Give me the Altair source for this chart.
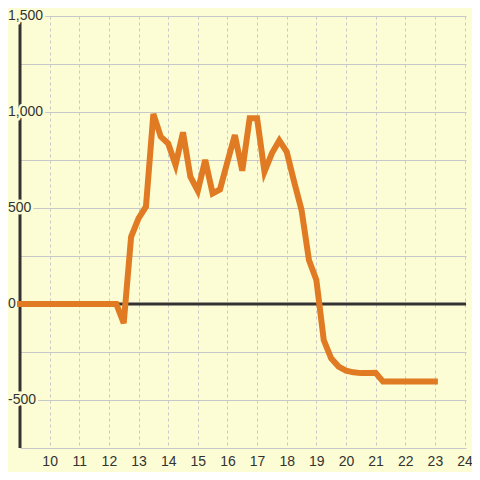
import altair as alt
import pandas as pd

hours = [9.0, 9.25, 9.5, 9.75, 10.0, 10.25, 10.5, 10.75, 11.0, 11.25, 11.5, 11.75,
         12.0, 12.25, 12.5, 12.75, 13.0, 13.25, 13.5, 13.75, 14.0, 14.25, 14.5, 14.75,
         15.0, 15.25, 15.5, 15.75, 16.0, 16.25, 16.5, 16.75, 17.0, 17.25, 17.5, 17.75,
         18.0, 18.25, 18.5, 18.75, 19.0, 19.25, 19.5, 19.75, 20.0, 20.25, 20.5, 20.75,
         21.0, 21.25, 21.5, 21.75, 22.0, 22.25, 22.5, 22.75, 23.0]
values = [0, 0, 0, 0, 0, 0, 0, 0, 0, 0, 0, 0,
          0, 0, -100, 350, 446, 507, 990, 872, 836, 724, 894, 663,
          590, 750, 576, 597, 741, 880, 694, 967, 967, 689, 785, 852,
          793, 637, 490, 229, 125, -188, -283, -326, -347, -356, -360, -360,
          -358, -404, -404, -404, -404, -404, -404, -404, -404]

x_ticks = [10, 11, 12, 13, 14, 15, 16, 17, 18, 19, 20, 21, 22, 23, 24]
y_grid = [-750, -500, -250, 0, 250, 500, 750, 1000, 1250, 1500]
y_label_values = [1500, 1000, 500, 0, -500]
y_label_texts = ["1,500", "1,000", "500", "0", "-500"]

BG = "#fdfdd5"
ORANGE = "#e07b24"
DARK = "#333333"
GRID = "#c8c8c8"
FONT = "Liberation Sans"

x_scale = alt.Scale(domain=[9, 24.05], nice=False, zero=False)
y_scale = alt.Scale(domain=[-750, 1500], nice=False, zero=False)

x_axis = alt.Axis(values=x_ticks, format="d", grid=True, gridDash=[3, 3], gridColor=GRID,
                  gridWidth=1, domain=False, ticks=False, labelPadding=6, labelFontSize=14,
                  labelColor=DARK, labelFont=FONT, title=None)
y_axis = alt.Axis(values=y_grid, grid=True, gridColor=GRID, gridWidth=1, labels=False,
                  domain=False, ticks=False, title=None)

X = alt.X("hour:Q", scale=x_scale, axis=x_axis)
Y = alt.Y("value:Q", scale=y_scale, axis=y_axis)

df = pd.DataFrame({"hour": hours, "value": values})
labels_df = pd.DataFrame({"value": y_label_values, "label": y_label_texts})

axis_line = alt.Chart(pd.DataFrame({"hour": [9.0]})).mark_rule(
    color=DARK, strokeWidth=3).encode(x=X)

zero_line = alt.Chart(pd.DataFrame({"value": [0]})).mark_rule(
    color=DARK, strokeWidth=3).encode(y=Y)

halo = alt.Chart(labels_df).mark_text(align="left", baseline="middle", fontSize=14, font=FONT,
                                      fill=BG, stroke=BG, strokeWidth=5).encode(
    x=alt.value(-12), y=Y, text="label:N")
label_txt = alt.Chart(labels_df).mark_text(align="left", baseline="middle", fontSize=14,
                                           font=FONT, color=DARK).encode(
    x=alt.value(-12), y=Y, text="label:N")

line = alt.Chart(df).mark_line(color=ORANGE, strokeWidth=6, strokeCap="square").encode(x=X, y=Y)

chart = alt.layer(axis_line, zero_line, halo, label_txt, line).properties(
    width=446, height=432, background=BG,
    padding={"left": 12, "top": 8, "right": 6, "bottom": 24},
    autosize=alt.AutoSizeParams(type="none"),
).configure_view(stroke=None)

chart.save("out.html", embed_options={"renderer": "svg", "actions": False})
